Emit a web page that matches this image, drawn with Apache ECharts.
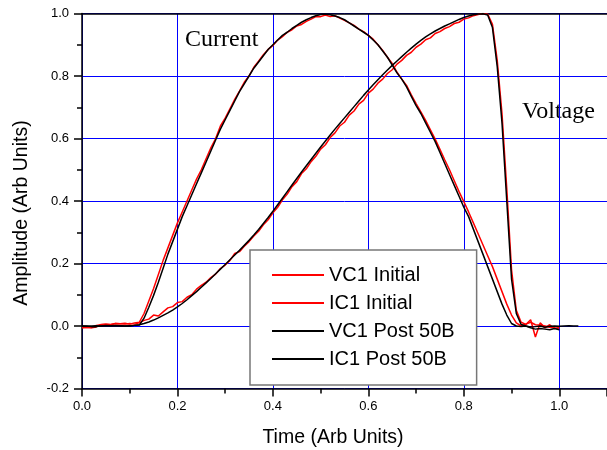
<!DOCTYPE html>
<html>
<head>
<meta charset="utf-8">
<script src="https://cdn.jsdelivr.net/npm/echarts@6/dist/echarts.min.js"></script>
<style>html,body{margin:0;padding:0;background:#fff}#c{width:607px;height:450px}</style>
</head>
<body>
<div id="c"></div>
<script>
// sample times (Arb Units)
var time = [0.00,0.01,0.02,0.03,0.04,0.05,0.06,0.07,0.08,0.09,
0.10,0.11,0.12,0.13,0.14,0.15,0.16,0.17,0.18,0.19,
0.20,0.21,0.22,0.23,0.24,0.25,0.26,0.27,0.28,0.29,
0.30,0.31,0.32,0.33,0.34,0.35,0.36,0.37,0.38,0.39,
0.40,0.41,0.42,0.43,0.44,0.45,0.46,0.47,0.48,0.49,
0.50,0.51,0.52,0.53,0.54,0.55,0.56,0.57,0.58,0.59,
0.60,0.61,0.62,0.63,0.64,0.65,0.66,0.67,0.68,0.69,
0.70,0.71,0.72,0.73,0.74,0.75,0.76,0.77,0.78,0.79,
0.80,0.81,0.82,0.83,0.84,0.85,0.86,0.87,0.88,0.89,
0.90,0.91,0.92,0.93,0.94,0.95,0.96,0.97,0.98,0.99,
1.00,1.01,1.02,1.03,1.04];

var seriesNames = ['VC1 Initial','IC1 Initial','VC1 Post 50B','IC1 Post 50B'];

var vc1Initial = [-0.005,-0.004,-0.006,-0.003,0.005,0.006,0.004,0.008,0.007,0.006,
0.008,0.006,0.010,0.018,0.022,0.035,0.032,0.045,0.058,0.062,
0.075,0.078,0.092,0.100,0.118,0.130,0.140,0.155,0.166,0.184,
0.195,0.210,0.232,0.238,0.255,0.270,0.288,0.303,0.324,0.340,
0.362,0.380,0.404,0.422,0.446,0.462,0.488,0.503,0.526,0.543,
0.566,0.580,0.603,0.618,0.640,0.652,0.675,0.688,0.710,0.722,
0.745,0.758,0.777,0.790,0.808,0.820,0.838,0.850,0.866,0.876,
0.892,0.902,0.916,0.922,0.936,0.942,0.952,0.958,0.968,0.972,
0.982,0.986,0.993,0.997,1.000,0.998,0.965,0.850,0.680,0.440,
0.180,0.050,0.012,0.005,0.020,-0.035,0.010,-0.006,0.004,-0.008,
-0.005];

var ic1Initial = [-0.006,-0.004,-0.005,0.002,0.004,0.006,0.005,0.008,0.007,0.009,
0.006,0.010,0.012,0.040,0.080,0.120,0.165,0.210,0.250,0.290,
0.330,0.365,0.400,0.435,0.470,0.500,0.535,0.570,0.600,0.640,
0.665,0.695,0.725,0.752,0.780,0.800,0.828,0.847,0.868,0.885,
0.898,0.915,0.926,0.940,0.948,0.960,0.965,0.975,0.982,0.990,
0.990,0.995,0.990,0.993,0.985,0.978,0.970,0.962,0.950,0.942,
0.930,0.918,0.900,0.882,0.860,0.840,0.812,0.790,0.770,0.740,
0.712,0.685,0.658,0.628,0.598,0.565,0.532,0.500,0.465,0.430,
0.398,0.365,0.330,0.295,0.260,0.225,0.190,0.150,0.110,0.070,
0.035,0.010,0.000,0.006,0.012,0.004,0.003,0.000,-0.004,-0.006,
-0.010];

var vc1Post = [0.000,-0.001,0.000,0.001,0.000,0.002,0.001,0.002,0.001,0.000,
0.001,0.002,0.004,0.008,0.013,0.019,0.026,0.034,0.042,0.051,
0.061,0.072,0.084,0.097,0.110,0.124,0.138,0.152,0.167,0.182,
0.197,0.212,0.227,0.242,0.258,0.274,0.291,0.309,0.328,0.347,
0.367,0.388,0.409,0.430,0.451,0.472,0.493,0.513,0.533,0.553,
0.573,0.592,0.611,0.630,0.648,0.666,0.684,0.702,0.720,0.738,
0.755,0.772,0.788,0.804,0.819,0.834,0.848,0.862,0.876,0.889,
0.902,0.914,0.925,0.935,0.944,0.952,0.960,0.967,0.974,0.981,
0.987,0.992,0.996,0.998,0.999,0.995,0.955,0.830,0.650,0.400,
0.150,0.040,0.005,0.000,-0.003,-0.002,0.000,-0.004,-0.001,0.000,
-0.001,0.000,0.001,0.000,0.000];

var ic1Post = [0.000,0.000,-0.002,-0.002,0.000,0.001,0.000,0.000,0.001,0.000,
0.000,0.002,0.003,0.025,0.060,0.098,0.140,0.185,0.230,0.270,
0.310,0.350,0.385,0.420,0.455,0.490,0.525,0.560,0.595,0.630,
0.660,0.690,0.720,0.750,0.775,0.800,0.825,0.845,0.865,0.885,
0.900,0.915,0.930,0.940,0.952,0.962,0.972,0.980,0.987,0.993,
0.997,0.998,0.996,0.992,0.987,0.980,0.970,0.960,0.950,0.940,
0.930,0.915,0.900,0.880,0.860,0.835,0.810,0.790,0.765,0.735,
0.705,0.680,0.650,0.620,0.590,0.555,0.520,0.485,0.450,0.415,
0.380,0.350,0.310,0.270,0.230,0.190,0.150,0.110,0.070,0.035,
0.008,0.000,-0.002,0.000,-0.006,-0.010,-0.008,-0.010,-0.012,-0.008,
-0.012];

var xTicks = {min:0, max:1.1, interval:0.2};
var yTicks = {min:-0.2, max:1.0, interval:0.2};

function pairs(vals){ return vals.map(function(v,i){ return [time[i], v]; }); }

var chart = echarts.init(document.getElementById('c'), null, {renderer:'canvas'});
var font = 'Arial, "Liberation Sans", sans-serif';
var serif = '"Times New Roman", "Liberation Serif", serif';
var colors = ['#ff0000','#ff0000','#000000','#000000'];
var dataSets = [vc1Initial, ic1Initial, vc1Post, ic1Post];

chart.setOption({
  animation:false,
  backgroundColor:'#ffffff',
  grid:{left:82, right:-4, top:13.5, bottom:61.5, containLabel:false},
  xAxis:[{
    type:'value', min:xTicks.min, max:xTicks.max, interval:xTicks.interval,
    axisLine:{onZero:false, lineStyle:{color:'#000', width:1.5}},
    axisTick:{show:true, length:8, lineStyle:{color:'#000', width:1.5}},
    minorTick:{show:true, splitNumber:2, length:5, lineStyle:{color:'#000', width:1.5}},
    splitLine:{show:true, lineStyle:{color:'#0000ff', width:1}},
    axisLabel:{showMaxLabel:false, margin:11, color:'#000', fontSize:13, fontFamily:font,
      formatter:function(v){return v.toFixed(1);}}
  },{
    type:'value', position:'top', min:xTicks.min, max:xTicks.max,
    axisLine:{show:true, onZero:false, lineStyle:{color:'#000', width:1.5}},
    axisTick:{show:false}, axisLabel:{show:false}, splitLine:{show:false}
  }],
  yAxis:{
    type:'value', min:yTicks.min, max:yTicks.max, interval:yTicks.interval,
    axisLine:{show:true, onZero:false, lineStyle:{color:'#000', width:1.5}},
    axisTick:{show:true, length:8, lineStyle:{color:'#000', width:1.5}},
    minorTick:{show:true, splitNumber:2, length:5, lineStyle:{color:'#000', width:1.5}},
    splitLine:{show:true, lineStyle:{color:'#0000ff', width:1}},
    axisLabel:{margin:13, color:'#000', fontSize:13, fontFamily:font,
      formatter:function(v){return v.toFixed(1);}}
  },
  legend:{
    orient:'vertical', left:250, top:250,
    padding:[15,22,16,22], itemWidth:52, itemHeight:2, itemGap:8, icon:'rect',
    backgroundColor:'#ffffff', borderColor:'#777777', borderWidth:1.5,
    textStyle:{fontSize:20, lineHeight:20, color:'#000', fontFamily:font},
    data:seriesNames
  },
  series: seriesNames.map(function(n,i){
    return {name:n, type:'line', xAxisIndex:0, data:pairs(dataSets[i]), showSymbol:false, symbol:'none',
      lineStyle:{color:colors[i], width:1.5}, itemStyle:{color:colors[i]}, z:i+2};
  }),
  graphic:[
    {type:'text', left:185, top:28, style:{text:'Current', font:'24px '+serif, fill:'#000'}},
    {type:'text', left:522, top:100, style:{text:'Voltage', font:'24px '+serif, fill:'#000'}},
    {type:'text', x:22, y:213, rotation:Math.PI/2, style:{text:'Amplitude (Arb Units)', font:'19.5px '+font, fill:'#000', align:'center', verticalAlign:'middle'}},
    {type:'text', x:333, y:438, style:{text:'Time (Arb Units)', font:'19.5px '+font, fill:'#000', align:'center', verticalAlign:'middle'}}
  ]
});
</script>
</body>
</html>
